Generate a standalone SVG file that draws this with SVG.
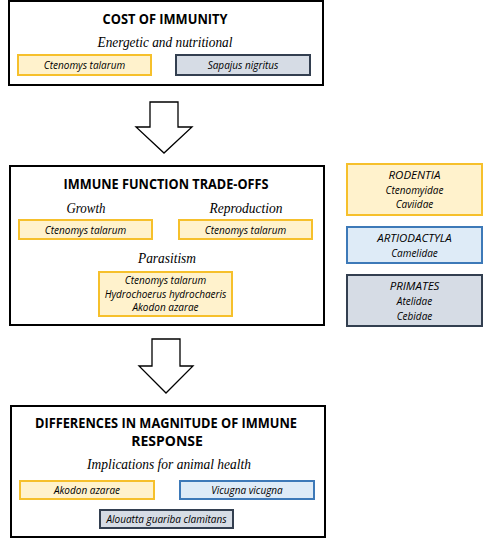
<svg xmlns="http://www.w3.org/2000/svg" width="500" height="547" viewBox="0 0 500 547">
<style>
.main{fill:#fff;stroke:#000;stroke-width:2}
.y{fill:#FFF2CC;stroke:#F6C02B;stroke-width:2}
.b{fill:#DEEBF7;stroke:#3D79B8;stroke-width:2}
.g{fill:#D6DCE5;stroke:#333F50;stroke-width:2}
.t{font-family:"Open Sans","Liberation Sans",sans-serif;font-weight:bold;font-size:14px;text-anchor:middle;fill:#000}
.s{font-family:"Liberation Serif",serif;font-style:italic;font-size:15px;text-anchor:middle;fill:#000}
.i{font-family:"Open Sans","Liberation Sans",sans-serif;font-style:italic;font-size:10px;text-anchor:middle;fill:#000}
.r{font-family:"Open Sans","Liberation Sans",sans-serif;font-style:italic;font-size:11.5px;text-anchor:middle;fill:#000}
.arr{fill:#fff;stroke:#000;stroke-width:1.3}
</style>
<rect width="500" height="547" fill="#fff"/>
<g id="cost">
<rect class="main" x="9" y="1" width="314" height="84"/>
<text class="t" x="165" y="24" textLength="125" lengthAdjust="spacingAndGlyphs">COST OF IMMUNITY</text>
<text class="s" x="165" y="47" textLength="135" lengthAdjust="spacingAndGlyphs">Energetic and nutritional</text>
<rect class="y" x="18" y="55" width="133" height="20"/>
<text class="i" x="84.5" y="69">Ctenomys talarum</text>
<rect class="g" x="176" y="55" width="134" height="20"/>
<text class="i" x="243" y="69">Sapajus nigritus</text>
</g>
<g id="connectors">
<polygon class="arr" points="150,102 178,102 178,127 192,127 164,153 136,127 150,127"/>
<polygon class="arr" points="152,339 180,339 180,366 193,366 166,393 139,366 152,366"/>
</g>
<g id="tradeoffs">
<rect class="main" x="10" y="166" width="314" height="159"/>
<text class="t" x="166" y="189" textLength="205" lengthAdjust="spacingAndGlyphs">IMMUNE FUNCTION TRADE-OFFS</text>
<text class="s" x="86" y="213" textLength="39" lengthAdjust="spacingAndGlyphs">Growth</text>
<text class="s" x="246" y="213" textLength="73" lengthAdjust="spacingAndGlyphs">Reproduction</text>
<rect class="y" x="19" y="220" width="133" height="19"/>
<text class="i" x="85.5" y="233.5">Ctenomys talarum</text>
<rect class="y" x="179" y="220" width="133" height="19"/>
<text class="i" x="245.5" y="233.5">Ctenomys talarum</text>
<text class="s" x="167" y="263" textLength="58" lengthAdjust="spacingAndGlyphs">Parasitism</text>
<rect class="y" x="99" y="272" width="133" height="44"/>
<text class="i" x="165.5" y="284">Ctenomys talarum</text>
<text class="i" x="165.5" y="298">Hydrochoerus hydrochaeris</text>
<text class="i" x="165.5" y="311">Akodon azarae</text>
</g>
<g id="rodentia">
<rect class="y" x="347" y="164" width="135" height="51"/>
<text class="r" x="414.5" y="179">RODENTIA</text>
<text class="i" x="414.5" y="194">Ctenomyidae</text>
<text class="i" x="414.5" y="208">Caviidae</text>
</g>
<g id="artiodactyla">
<rect class="b" x="347" y="227" width="135" height="36"/>
<text class="r" x="414.5" y="242">ARTIODACTYLA</text>
<text class="i" x="414.5" y="257">Camelidae</text>
</g>
<g id="primates">
<rect class="g" x="347" y="275" width="135" height="51"/>
<text class="r" x="414.5" y="290">PRIMATES</text>
<text class="i" x="414.5" y="305">Atelidae</text>
<text class="i" x="414.5" y="320">Cebidae</text>
</g>
<g id="differences">
<rect class="main" x="11" y="406" width="314" height="131"/>
<text class="t" x="166" y="428" textLength="262" lengthAdjust="spacingAndGlyphs">DIFFERENCES IN MAGNITUDE OF IMMUNE</text>
<text class="t" x="167" y="446">RESPONSE</text>
<text class="s" x="169" y="469" textLength="164" lengthAdjust="spacingAndGlyphs">Implications for animal health</text>
<rect class="y" x="20" y="481" width="134" height="18"/>
<text class="i" x="87" y="494">Akodon azarae</text>
<rect class="b" x="180" y="481" width="134" height="18"/>
<text class="i" x="247" y="494">Vicugna vicugna</text>
<rect class="g" x="100" y="510" width="133" height="18"/>
<text class="i" x="166.5" y="523">Alouatta guariba clamitans</text>
</g>
</svg>
